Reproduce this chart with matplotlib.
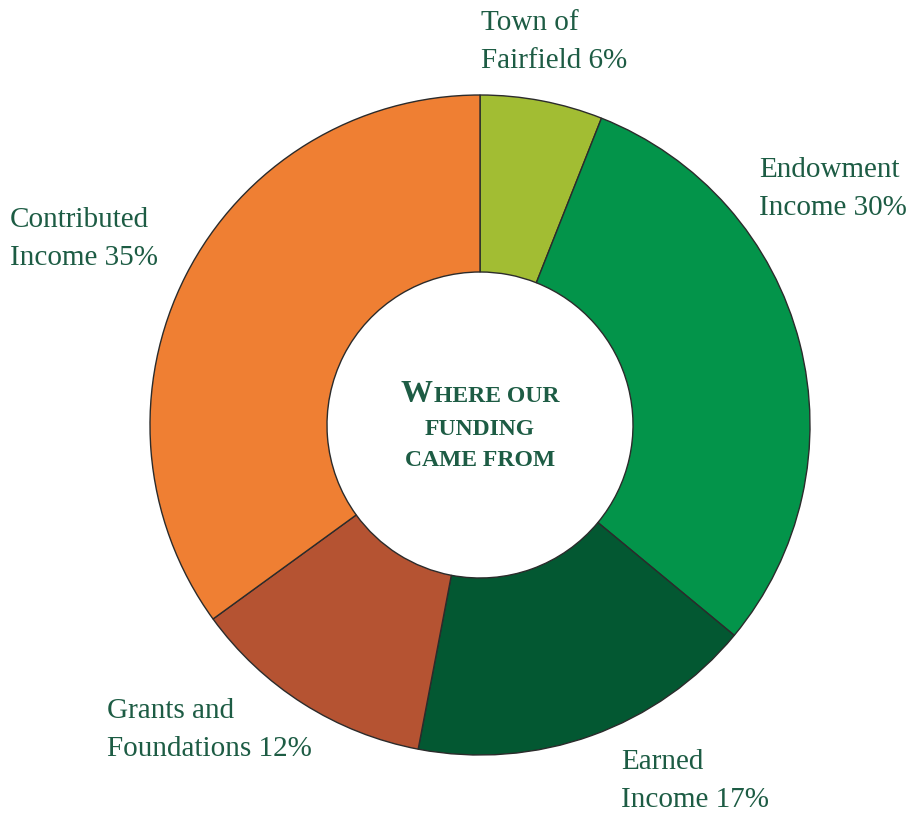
import matplotlib.pyplot as plt

# Данные диаграммы
labels = ["Town of\nFairfield 6%", "Endowment\nIncome 30%", "Earned\nIncome 17%",
          "Grants and\nFoundations 12%", "Contributed\nIncome 35%"]
shares = [6, 30, 17, 12, 35]
colors = ["#a2bd33", "#03944a", "#035832", "#b55332", "#ef7f33"]

# Позиции подписей (в пикселях, от левого верхнего угла)
label_pos = [(481, 42), (759, 189), (621, 781), (107, 730), (10, 239)]

text_color = "#1d5c44"
W, H = 912, 814

fig = plt.figure(figsize=(W / 100, H / 100), dpi=100)
ax = fig.add_axes([0, 0, 1, 1])

cx, cy = 480, H - 425
r_out, r_in = 330, 153
ax.pie(shares, colors=colors, radius=r_out, center=(cx, cy), startangle=90,
       counterclock=False,
       wedgeprops=dict(width=r_out - r_in, edgecolor="#2b2b2b", linewidth=1.0))

ax.set_xlim(0, W)
ax.set_ylim(0, H)
ax.set_aspect("equal")
ax.axis("off")

for lab, (x, y) in zip(labels, label_pos):
    ax.text(x, H - y, lab, ha="left", va="center", fontsize=21,
            family="Liberation Serif", color=text_color, linespacing=1.63)

# Заголовок в центре (капитель)
bold = dict(family="Liberation Serif", weight="bold", color=text_color)
fig.canvas.draw()
renderer = fig.canvas.get_renderer()
t_big = ax.text(0, H - 402, "W", fontsize=23, ha="left", va="baseline", **bold)
t_small = ax.text(0, H - 402, "HERE OUR", fontsize=17, ha="left", va="baseline", **bold)
w_big = t_big.get_window_extent(renderer).width
w_small = t_small.get_window_extent(renderer).width
x0 = cx - (w_big + w_small + 2) / 2
t_big.set_x(x0)
t_small.set_x(x0 + w_big + 2)

ax.text(cx, H - 435, "FUNDING", fontsize=17, ha="center", va="baseline", **bold)
ax.text(cx, H - 466, "CAME FROM", fontsize=17, ha="center", va="baseline", **bold)

fig.savefig("out.png", dpi=100)
